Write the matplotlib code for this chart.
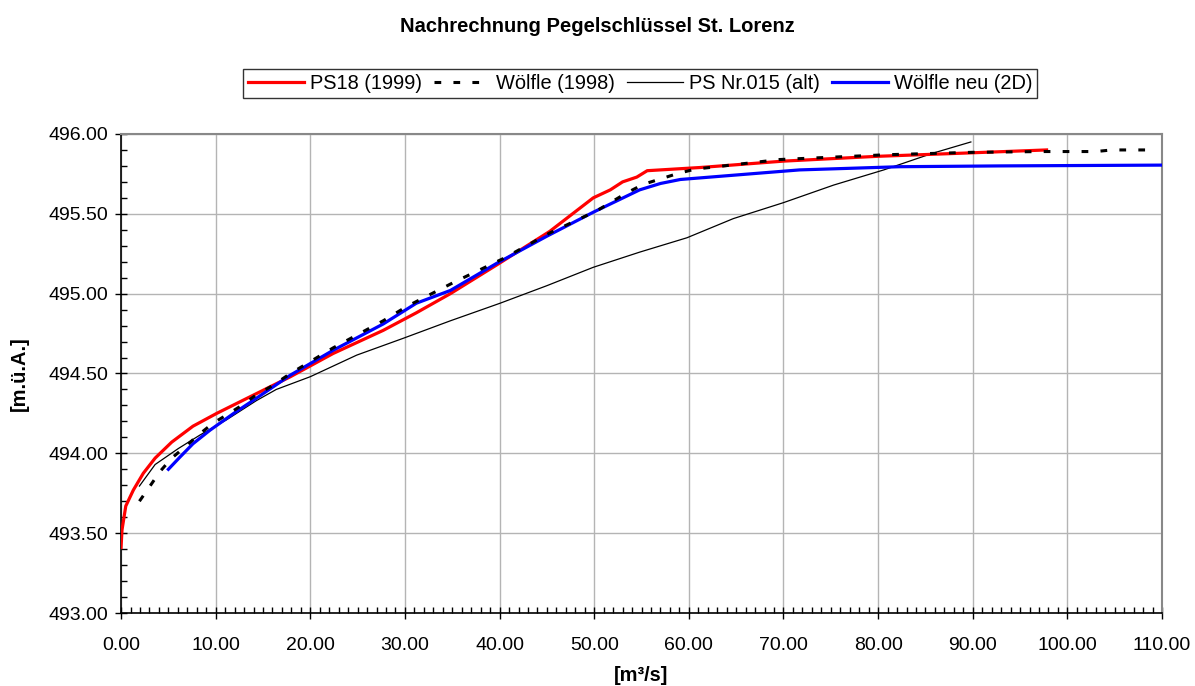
import numpy as np
import matplotlib
matplotlib.use("Agg")
import matplotlib.pyplot as plt
from matplotlib.ticker import MultipleLocator, FormatStrFormatter

plt.rcParams['font.family'] = ['Liberation Sans', 'DejaVu Sans']

# PS18 (1999)
q_ps18 = [0.0, 0.1, 0.5, 1.3, 2.35, 3.6, 5.35, 7.6, 10.1, 14.0, 17.9, 22.4,
          27.7, 31.2, 34.8, 39.7, 45.3, 49.9, 51.7, 53.0, 54.5, 55.6, 61.2,
          70.0, 79.9, 89.0, 97.8]
h_ps18 = [493.41, 493.52, 493.67, 493.77, 493.875, 493.97, 494.07, 494.17,
          494.25, 494.365, 494.48, 494.625, 494.77, 494.88, 495.0, 495.18,
          495.39, 495.60, 495.65, 495.70, 495.73, 495.77, 495.79, 495.83,
          495.86, 495.88, 495.90]

# Wölfle (1998)
q_w98 = [1.94, 3.06, 4.1, 5.35, 6.76, 8.17, 9.75, 11.15, 12.75, 14.26, 15.9,
         17.9, 22.4, 27.7, 30.2, 35.3, 40.4, 45.3, 50.3, 53.4, 55.2, 58.7,
         60.65, 62.2, 69.6, 80.9, 89.9, 97.4, 103.0, 104.7, 108.4]
h_w98 = [493.70, 493.795, 493.885, 493.97, 494.04, 494.115, 494.19, 494.24,
         494.30, 494.365, 494.42, 494.50, 494.66, 494.83, 494.92, 495.075,
         495.22, 495.38, 495.52, 495.63, 495.685, 495.75, 495.78, 495.79,
         495.84, 495.87, 495.885, 495.89, 495.89, 495.90, 495.90]

# PS Nr.015 (alt)
q_alt = [1.94, 3.6, 6.05, 8.35, 11.15, 14.3, 16.4, 20.0, 24.9, 29.8, 34.8,
         40.05, 45.0, 49.9, 54.8, 59.8, 64.7, 70.0, 75.3, 80.6, 85.8, 89.8]
h_alt = [493.795, 493.93, 494.03, 494.115, 494.21, 494.33, 494.40, 494.48,
         494.615, 494.72, 494.83, 494.94, 495.05, 495.165, 495.26, 495.35,
         495.47, 495.57, 495.68, 495.775, 495.88, 495.95]

# Wölfle neu (2D)
q_neu = [5.0, 6.2, 7.6, 9.4, 11.9, 14.3, 17.9, 22.4, 27.7, 31.2, 34.8, 39.7,
         45.0, 49.9, 54.8, 57.0, 59.1, 61.2, 71.7, 82.3, 92.9, 110.0]
h_neu = [493.90, 493.975, 494.06, 494.145, 494.25, 494.345, 494.49, 494.645,
         494.81, 494.94, 495.02, 495.19, 495.36, 495.51, 495.65, 495.69,
         495.715, 495.725, 495.775, 495.795, 495.80, 495.805]

fig = plt.figure(figsize=(11.95, 6.86), dpi=100)
ax = fig.add_axes([0.1013, 0.1064, 0.8711, 0.6983])

ax.plot(q_ps18, h_ps18, color='#ff0000', lw=2.3, label='PS18 (1999)', zorder=4)
ax.plot(q_w98, h_w98, color='black', lw=2.2, linestyle=(0, (2.2, 4)),
        label='Wölfle (1998)', zorder=5)
ax.plot(q_alt, h_alt, color='black', lw=0.9, label='PS Nr.015 (alt)', zorder=3)
ax.plot(q_neu, h_neu, color='#0000ff', lw=2.3, label='Wölfle neu (2D)', zorder=4)

ax.set_xlim(0, 110)
ax.set_ylim(493, 496)
ax.xaxis.set_major_locator(MultipleLocator(10))
ax.xaxis.set_minor_locator(MultipleLocator(1))
ax.yaxis.set_major_locator(MultipleLocator(0.5))
ax.yaxis.set_minor_locator(MultipleLocator(0.1))
ax.xaxis.set_major_formatter(FormatStrFormatter('%.2f'))
ax.yaxis.set_major_formatter(FormatStrFormatter('%.2f'))
ax.tick_params(which='major', direction='inout', length=8, width=1, labelsize=14)
ax.tick_params(which='minor', direction='in', length=4, width=1)
ax.tick_params(axis='x', which='major', pad=13)
ax.tick_params(axis='y', which='major', pad=5)

ax.grid(which='major', color='#b4b4b4', lw=1)
ax.set_axisbelow(True)
for s in ['top', 'right']:
    ax.spines[s].set_color('#888888')
    ax.spines[s].set_linewidth(1.5)
for s in ['left', 'bottom']:
    ax.spines[s].set_linewidth(1.2)

ax.set_xlabel('[m³/s]', fontsize=14.4, fontweight='bold', labelpad=9)
ax.set_ylabel('[m.ü.A.]', fontsize=14.4, fontweight='bold', labelpad=14)

fig.text(0.5, 0.962, 'Nachrechnung Pegelschlüssel St. Lorenz', ha='center',
         va='center', fontsize=14.5, fontweight='bold')

leg = fig.legend(loc='center', bbox_to_anchor=(0.5356, 0.8776), ncol=4,
                 fontsize=14.4, frameon=True, fancybox=False, edgecolor='black',
                 handlelength=2.8, handletextpad=0.3, columnspacing=0.6,
                 borderpad=0.25, borderaxespad=0)
leg.get_frame().set_linewidth(1.0)

fig.savefig('out.png', dpi=100)
